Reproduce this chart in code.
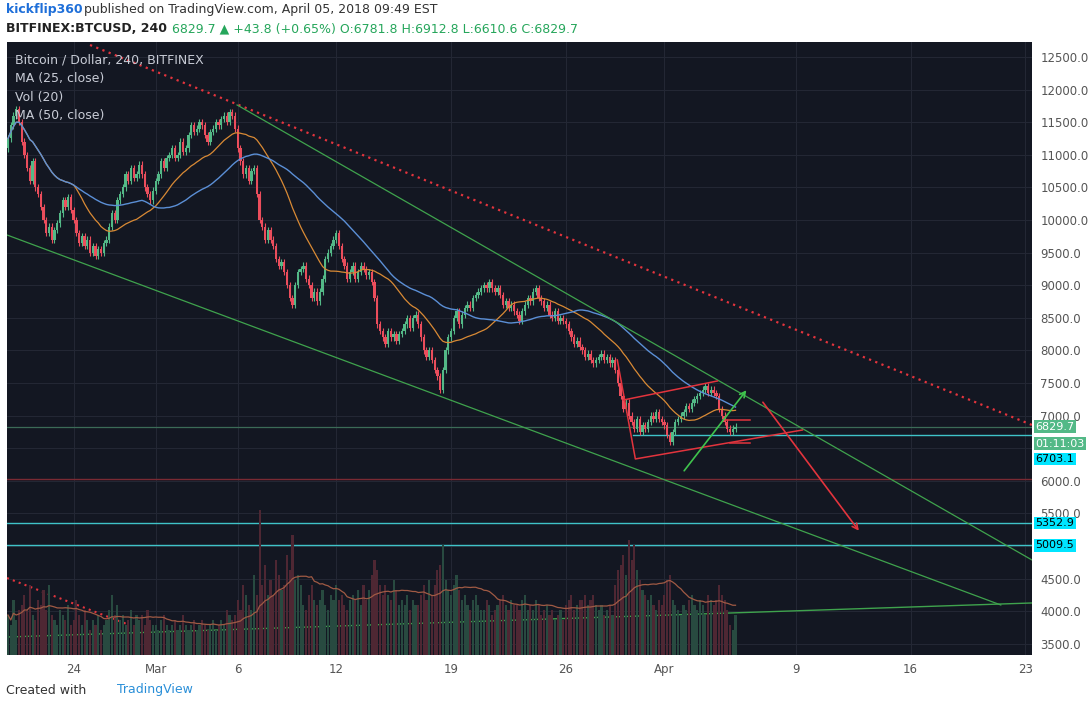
import numpy as np, pandas as pd, matplotlib
matplotlib.use("Agg")
import matplotlib.pyplot as plt, seaborn as sns

days = ["Feb20","Feb21","Feb22","Feb23","Feb24","Feb25","Feb26","Feb27","Feb28"] + \
       [f"Mar{i}" for i in range(1,32)] + [f"Apr{i}" for i in range(1,6)]
closes_by_day = [
 [11250,11450,11600,11700,11500,11200],[11000,10800,10600,10900,10500,10400],
 [10200,10000,9800,9900,9700,9850],[9950,10100,10300,10200,10350,10150],
 [10000,9800,9650,9750,9600,9700],[9500,9600,9450,9550,9500,9650],
 [9700,9900,10100,10000,10300,10400],[10500,10700,10600,10800,10650,10700],
 [10850,10700,10500,10400,10300,10450],[10600,10700,10900,10800,10950,11000],
 [11100,10950,11000,11200,11050,11100],[11300,11450,11350,11400,11500,11450],
 [11300,11200,11350,11400,11500,11450],[11550,11600,11500,11650,11600,11400],
 [11100,10900,10700,10800,10600,10750],[10800,10400,10000,9900,9700,9850],
 [9700,9600,9400,9300,9350,9200],[9000,8800,8700,9000,9200,9250],
 [9300,9100,9000,8800,8900,8750],[8900,9100,9400,9500,9600,9700],
 [9800,9600,9400,9300,9100,9200],[9300,9100,9200,9300,9250,9150],
 [9200,9050,8800,8400,8300,8200],[8100,8300,8200,8250,8150,8250],
 [8300,8400,8500,8350,8500,8550],[8400,8200,8000,7900,8000,7850],
 [7700,7600,7400,7700,8000,8200],[8300,8500,8600,8400,8550,8650],
 [8700,8650,8800,8850,8900,8950],[9000,8950,9050,8950,8900,8950],
 [8850,8700,8750,8650,8700,8600],[8550,8450,8600,8700,8800,8750],
 [8900,8950,8800,8750,8650,8700],[8550,8500,8600,8450,8500,8450],
 [8400,8300,8200,8100,8150,8050],[8000,7900,7950,7850,7800,7850],
 [7900,7950,7850,7900,7800,7850],[7700,7500,7300,7100,7200,7000],
 [6900,6800,6950,6750,6850,6800],[6900,7000,6950,7050,6950,6900],
 [6850,6700,6600,6750,6900,6950],[7000,7050,7150,7100,7200,7250],
 [7300,7350,7400,7450,7350,7400],[7350,7300,7100,7000,6900,6800],
 [6750,6800,6830]]
volumes_by_day = [
 [40,30,55,35,45,50],[60,45,70,40,35,55],[50,65,45,70,40,35],[30,45,40,35,50,30],
 [35,55,40,30,45,35],[25,35,30,40,25,30],[35,45,60,40,50,35],[40,30,35,45,30,40],
 [35,40,30,45,35,30],[30,25,35,40,30,25],[30,35,25,30,40,30],[25,30,35,25,30,35],
 [30,25,30,35,25,30],[35,30,45,40,35,40],[55,45,70,60,50,45],[80,60,145,70,90,60],
 [75,60,95,80,65,70],[100,85,120,75,80,70],[50,45,60,70,55,50],[55,65,50,45,60,55],
 [70,55,60,50,45,55],[60,55,65,50,70,55],[65,80,95,85,70,60],[70,60,55,75,65,50],
 [55,50,60,45,55,50],[50,60,70,55,75,60],[70,85,90,110,75,65],[60,70,80,65,55,60],
 [50,45,55,60,50,45],[45,55,50,40,45,50],[55,60,50,45,55,50],[50,45,55,60,45,50],
 [45,55,50,40,45,50],[40,45,35,40,45,35],[50,55,60,45,50,55],[55,60,50,55,60,50],
 [45,50,40,45,50,40],[70,85,90,100,80,115],[95,110,85,75,65,60],[55,60,50,45,55,50],
 [60,75,80,55,50,45],[40,50,45,55,60,50],[45,55,50,40,60,55],[50,55,70,60,55,45],
 [30,25,40]]
tick_days = [4, 9, 14, 20, 27, 34, 40, 48, 55, 62]
tick_labels = ["24", "Mar", "6", "12", "19", "26", "Apr", "9", "16", "23"]
price_ticks = list(range(3500, 13000, 500))

closes = [c for d in closes_by_day for c in d]
vols = [v for d in volumes_by_day for v in d]
n = len(closes)
t = np.arange(n) / 6.0
opens = [closes[0] - 150] + closes[:-1]
df = pd.DataFrame({"t": t, "o": opens, "c": closes, "v": vols})
df["up"] = df.c >= df.o
df["ma25"] = df.c.rolling(25, min_periods=1).mean()
df["ma50"] = df.c.rolling(50, min_periods=1).mean()
df["vma"] = df.v.rolling(20, min_periods=1).mean()

BG = "#131722"; UP = "#53b987"; DN = "#eb4d5c"
fig = plt.figure(figsize=(10.92, 7.08), dpi=100, facecolor="white")
ax = fig.add_axes([7/1092, 53/708, 1025/1092, 613/708])
ax.set_facecolor(BG)
XL = (-0.06, 62.4); YL = (3328, 12730)
ax.set_xlim(*XL); ax.set_ylim(*YL)
for p in price_ticks: ax.axhline(p, color="#232734", lw=0.8, zorder=0)
for d in tick_days: ax.axvline(d, color="#232734", lw=0.8, zorder=0)

# volume
ax2 = ax.twinx(); ax2.set_ylim(0, 613); ax2.set_xlim(*XL); ax2.axis("off")
ax2.bar(df.t, df.v, width=0.13, color=["#284a40" if u else "#4e2733" for u in df.up], zorder=1)
ax2.plot(df.t, df.vma, color="#a05a44", lw=0.9)

# candles
cols = [UP if u else DN for u in df.up]
lo = np.minimum(df.o, df.c); hi = np.maximum(df.o, df.c)
ax.vlines(df.t, lo - 50, hi + 50, colors=cols, lw=0.8, zorder=3)
ax.bar(df.t, np.maximum(hi - lo, 15), bottom=lo, width=0.14, color=cols, zorder=4)
sns.lineplot(x=df.t, y=df.ma25, ax=ax, color="#d98a35", lw=0.9, zorder=5)
sns.lineplot(x=df.t, y=df.ma50, ax=ax, color="#5b8fd6", lw=1.0, zorder=5)

# drawings
red = "#e3343d"
ax.plot([5.0, 62.4], [12684, 6856], color=red, lw=1.6, ls=(0, (1, 2)), zorder=6)
ax.plot([13.96, 62.4], [11764, 4785], color="#3fa34d", lw=0.9, zorder=6)
ax.plot([-0.06, 60.5], [9770, 4095], color="#3fa34d", lw=0.9, zorder=6)
ax.plot([-0.06, 62.4], [3604, 4126], color="#3fa34d", lw=1.0, zorder=6)
ax.plot([-0.06, 7.4], [4509, 3788], color=red, lw=1.5, ls=(0, (1, 2)), zorder=6)
ax.plot([37.13, 38.23, 48.41], [7853, 6335, 6779], color=red, lw=1.1, zorder=6)
ax.plot([37.5, 43.23], [7239, 7531], color=red, lw=1.1, zorder=6)
ax.plot([43.7, 45.2], [6933, 6933], color=red, lw=1.1, zorder=6)
ax.plot([44.0, 45.2], [6580, 6580], color=red, lw=1.1, zorder=6)
ax.annotate("", xy=(45.1, 7423), xytext=(41.1, 6120),
            arrowprops=dict(arrowstyle="->", color="#3fc34d", lw=1.2), zorder=7)
ax.annotate("", xy=(51.95, 5200), xytext=(45.9, 7239),
            arrowprops=dict(arrowstyle="->", color=red, lw=1.2), zorder=7)
ax.axhline(6829.7, color="#3b6b57", lw=0.9, zorder=2)
ax.axhline(6030, color="#7a2a33", lw=1.0, zorder=2)
ax.axhline(5352.9, color="#3fc3c8", lw=1.0, zorder=2)
ax.axhline(5009.5, color="#3fc3c8", lw=1.0, zorder=2)
ax.plot([38.1, 62.4], [6703.1, 6703.1], color="#3fc3c8", lw=1.0, zorder=2)

# axes
shown = [p for p in price_ticks if p not in (6500, 5000)]
ax.yaxis.tick_right()
ax.set_yticks(shown); ax.set_yticklabels([f"{p:.1f}" for p in shown])
ax.set_xticks(tick_days); ax.set_xticklabels(tick_labels)
ax.tick_params(colors="#555555", labelsize=8.5, length=0, pad=6)
ax.set_xlabel(""); ax.set_ylabel("")
for s in ax.spines.values(): s.set_visible(False)
for val, txt, fc in [(6829.7, "6829.7", "#53b987"), (6570, "01:11:03", "#53b987"),
                     (6334, "6703.1", "#00e5ff"), (5352.9, "5352.9", "#00e5ff"),
                     (5009.5, "5009.5", "#00e5ff")]:
    ax.text(1.0035, val, txt, transform=ax.get_yaxis_transform(), va="center", ha="left",
            fontsize=8, color="white" if fc == "#53b987" else "black",
            bbox=dict(boxstyle="square,pad=0.12", fc=fc, ec="none"), zorder=10, clip_on=False)

for i, s in enumerate(["Bitcoin / Dollar, 240, BITFINEX", "MA (25, close)", "Vol (20)", "MA (50, close)"]):
    fig.text(15/1092, 1 - (60 + i * 18.5) / 708, s, color="#c8ccd6", fontsize=9, va="center")
fig.text(6/1092, 1 - 10/708, "kickflip360", color="#1e6fd9", fontsize=9, weight="bold", va="center")
fig.text(84/1092, 1 - 10/708, "published on TradingView.com, April 05, 2018 09:49 EST", color="#333", fontsize=9, va="center")
fig.text(6/1092, 1 - 29/708, "BITFINEX:BTCUSD, 240", color="#222", fontsize=9, weight="bold", va="center")
fig.text(172/1092, 1 - 29/708, "6829.7 \u25b2 +43.8 (+0.65%) O:6781.8 H:6912.8 L:6610.6 C:6829.7",
         color="#26a65b", fontsize=9, va="center")
fig.text(6/1092, 1 - 690/708, "Created with", color="#333", fontsize=9, va="center")
fig.text(117/1092, 1 - 690/708, "TradingView", color="#2a8fd8", fontsize=9, va="center")
fig.savefig("out.png", dpi=100, facecolor="white")
